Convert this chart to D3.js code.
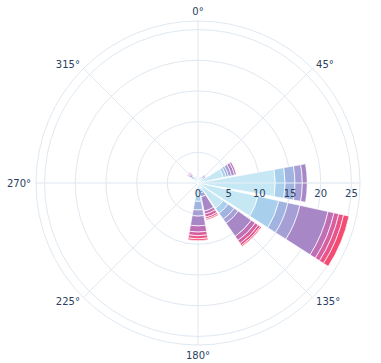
<!DOCTYPE html>
<html>
<head>
<meta charset="utf-8">
<script src="https://cdn.jsdelivr.net/npm/d3@7"></script>
<style>
  html, body { margin: 0; padding: 0; background: #fff; }
  svg { display: block; }
  text { font-family: "DejaVu Sans", Verdana, sans-serif; fill: #2a3f5f; }
</style>
</head>
<body>
<svg id="chart" width="381" height="363"></svg>
<script>
// Wind directions (compass, clockwise from north)
const directions = ["N","NNE","NE","ENE","E","ESE","SE","SSE","S","SSW","SW","WSW","W","WNW","NW","NNW"];
const angles = [0,22.5,45,67.5,90,112.5,135,157.5,180,202.5,225,247.5,270,292.5,315,337.5];

// Speed classes, stacked from the centre outwards
const speedBins = ["0-1","1-2","2-3","3-4","4-5","5-6","6-7","7-8","8+"];
const binColors = ["#c6e7f4","#a8d0ed","#a1b3e0","#a59fd5","#a887c6","#bf6fb5","#d6609f","#ea5389","#f44b72"];

// Frequency (%) per direction for each speed class
const freq0 = [0.6,0.6,0.8,4.2,12.6,10.0,5.0,1.0,2.0,0,0,0,0.2,0.3,0.9,0.7];
const freq1 = [0.2,0.2,0.3,0.5,1.6,3.5,1.0,0.3,1.0,0,0,0,0,0.1,0.3,0.2];
const freq2 = [0.1,0.1,0.2,0.4,1.6,1.5,1.2,0.4,1.4,0,0,0,0,0,0.2,0.1];
const freq3 = [0,0.1,0.2,0.5,1.2,2.0,0.8,0.6,1.0,0,0,0,0,0,0.3,0.1];
const freq4 = [0,0,0.1,0.5,0.8,4.7,2.6,2.4,1.6,0,0,0,0,0,0.2,0];
const freq5 = [0,0,0,0.3,0,1.0,0.8,0.5,1.0,0,0,0,0,0,0.1,0];
const freq6 = [0,0,0,0,0,0.8,0.6,0.5,0.6,0,0,0,0,0,0.1,0];
const freq7 = [0,0,0,0,0,0.8,0.4,0.3,0.5,0,0,0,0,0,0.1,0];
const freq8 = [0,0,0,0,0,0.9,0.2,0.2,0.3,0,0,0,0,0,0,0];

const radialRange = [0, 26.4];
const radialTicks = [0,5,10,15,20,25];
const angularTicks = [0,45,90,135,180,225,270,315];
// The east label falls past the right edge of the frame, so it is not drawn
const angularLabels = [0,45,135,180,225,270,315];

const series = [freq0,freq1,freq2,freq3,freq4,freq5,freq6,freq7,freq8];

const svg = d3.select("#chart");
const cx = 198, cy = 183, R = 162;
const barGap = 0.1;
const step = 360 / directions.length;

const r = d3.scaleLinear().domain(radialRange).range([0, R]);
const toRad = d => d * Math.PI / 180;

const g = svg.append("g").attr("transform", `translate(${cx},${cy})`);
const gridColor = "#e0e8f1";

// Radial grid circles
g.append("g").selectAll("circle")
  .data(radialTicks.filter(t => t > 0))
  .join("circle")
  .attr("r", d => r(d))
  .attr("fill", "none")
  .attr("stroke", gridColor)
  .attr("stroke-width", 1);

// Angular grid spokes
g.append("g").selectAll("line")
  .data(angularTicks)
  .join("line")
  .attr("x1", 0).attr("y1", 0)
  .attr("x2", d => R * Math.sin(toRad(d)))
  .attr("y2", d => -R * Math.cos(toRad(d)))
  .attr("stroke", gridColor)
  .attr("stroke-width", 1);

// Outer boundary
g.append("circle")
  .attr("r", R)
  .attr("fill", "none")
  .attr("stroke", gridColor)
  .attr("stroke-width", 1);

// Stacked polar bars
const rows = directions.map((dir, i) => {
  const row = { dir, angle: angles[i] };
  speedBins.forEach((b, k) => { row[b] = series[k][i]; });
  return row;
});
const stacked = d3.stack().keys(speedBins)(rows);

const arc = d3.arc()
  .innerRadius(d => r(d[0]))
  .outerRadius(d => r(d[1]))
  .startAngle(d => toRad(d.data.angle - step * (1 - barGap) / 2))
  .endAngle(d => toRad(d.data.angle + step * (1 - barGap) / 2));

g.append("g").selectAll("g")
  .data(stacked)
  .join("g")
  .attr("fill", (d, k) => binColors[k])
  .selectAll("path")
  .data(d => d.filter(s => s[1] - s[0] > 0))
  .join("path")
  .attr("d", arc)
  .attr("stroke", "#ffffff")
  .attr("stroke-width", 0.7);

// Radial axis line and tick labels
g.append("line")
  .attr("x1", 0).attr("y1", 0)
  .attr("x2", R).attr("y2", 0)
  .attr("stroke", "#eaf0f7")
  .attr("stroke-width", 1);

g.append("g").selectAll("text")
  .data(radialTicks)
  .join("text")
  .attr("x", d => r(d))
  .attr("y", 14)
  .attr("text-anchor", "middle")
  .attr("font-size", 10)
  .text(d => d);

// Angular tick labels
const labelR = 167;
g.append("g").selectAll("text")
  .data(angularLabels)
  .join("text")
  .attr("x", d => labelR * Math.sin(toRad(d)))
  .attr("y", d => -labelR * Math.cos(toRad(d)))
  .attr("font-size", 10)
  .attr("text-anchor", d => {
    const s = Math.sin(toRad(d));
    return s > 0.01 ? "start" : (s < -0.01 ? "end" : "middle");
  })
  .attr("dy", d => {
    const c = Math.cos(toRad(d));
    return c > 0.99 ? "-0.1em" : (c < -0.99 ? "0.85em" : "0.35em");
  })
  .text(d => d + "°");
</script>
</body>
</html>
